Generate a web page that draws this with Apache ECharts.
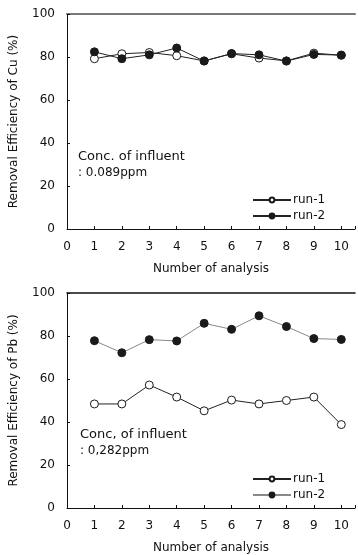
<!DOCTYPE html>
<html>
<head>
<meta charset="utf-8">
<script src="https://cdn.jsdelivr.net/npm/echarts@6/dist/echarts.min.js"></script>
<style>html,body{margin:0;padding:0;background:#fff}#c{width:358px;height:555px}</style>
</head>
<body>
<div id="c"></div>
<script>
const analysisNo = [1,2,3,4,5,6,7,8,9,10];
const xTicks = [0,1,2,3,4,5,6,7,8,9,10];
const yTicks = [0,20,40,60,80,100];
const cuRun1 = [79.2, 81.5, 82.1, 80.6, 78.2, 81.5, 79.5, 78.2, 81.8, 80.8];
const cuRun2 = [82.4, 79.2, 81.0, 84.2, 78.1, 81.6, 81.0, 78.1, 81.2, 80.9];
const pbRun1 = [48.4, 48.4, 57.2, 51.6, 45.2, 50.2, 48.4, 50.0, 51.6, 38.8];
const pbRun2 = [77.8, 72.2, 78.3, 77.7, 85.9, 83.1, 89.4, 84.4, 78.8, 78.4];

const FONT = 'DejaVu Sans';
const chart = echarts.init(document.getElementById('c'), null, {renderer:'canvas'});
const pair = (ys) => ys.map((v,i)=>[analysisNo[i], v]);

function xAxisFor(gi) {
  return {
    type:'value', gridIndex:gi, min:0, max:10.5, interval:1,
    name:'Number of analysis', nameLocation:'middle', nameGap:34,
    nameTextStyle:{fontFamily:FONT, fontSize:12, color:'#111'},
    axisLine:{lineStyle:{color:'#111', width:1}},
    axisTick:{inside:true, length:3, lineStyle:{color:'#111'}},
    axisLabel:{margin:12, fontFamily:FONT, fontSize:12, color:'#111',
      formatter:(v)=> xTicks.includes(v) ? String(v) : ''},
    splitLine:{show:false}
  };
}
function topAxisFor(gi, color, width) {
  return {
    type:'value', gridIndex:gi, position:'top', min:0, max:10.5,
    axisLine:{show:true, lineStyle:{color:color, width:width}},
    axisTick:{show:false}, axisLabel:{show:false}, splitLine:{show:false}
  };
}
function yAxisFor(gi, name) {
  return {
    type:'value', gridIndex:gi, min:0, max:100, interval:20,
    name:name, nameLocation:'middle', nameGap:47,
    nameTextStyle:{fontFamily:FONT, fontSize:12, color:'#111'},
    axisLine:{show:true, lineStyle:{color:'#111', width:1}},
    axisTick:{inside:true, length:3, lineStyle:{color:'#111'}},
    axisLabel:{margin:12, fontFamily:FONT, fontSize:12, color:'#111',
      formatter:(v)=> yTicks.includes(v) ? String(v) : ''},
    splitLine:{show:false}
  };
}
function series(name, data, gi, filled, lineColor) {
  return {
    name:name, type:'line', xAxisIndex:gi*2, yAxisIndex:gi, data:pair(data),
    symbol:'circle', symbolSize:8, showSymbol:true,
    lineStyle:{color:lineColor, width:1},
    itemStyle:{color: filled ? '#1a1a1a' : '#fff', borderColor:'#1a1a1a', borderWidth:1},
    animation:false
  };
}
const legendStyle = (top, names) => ({
  orient:'vertical', left:252, top:top, padding:0, itemWidth:38, itemHeight:6, itemGap:4,
  textStyle:{fontFamily:FONT, fontSize:12, color:'#111', padding:[0,0,0,-3]},
  formatter:(n)=> n.trim(),
  data:names
});

chart.setOption({
  animation:false,
  grid:[
    {left:65, top:14, width:292, height:215},
    {left:67, top:293, width:291, height:216}
  ],
  xAxis:[xAxisFor(0), topAxisFor(0,'#777',2), xAxisFor(1), topAxisFor(1,'#111',1.5)],
  yAxis:[yAxisFor(0,'Removal Efficiency of Cu (%)'), yAxisFor(1,'Removal Efficiency of Pb (%)')],
  legend:[legendStyle(194, ['run-1','run-2']), legendStyle(473, ['run-1 ','run-2 '])],
  series:[
    series('run-1', cuRun1, 0, false, '#222'),
    series('run-2', cuRun2, 0, true, '#222'),
    series('run-1 ', pbRun1, 1, false, '#222'),
    series('run-2 ', pbRun2, 1, true, '#888')
  ],
  graphic:[
    {type:'text', left:78, top:150, style:{text:'Conc. of influent', font:'13px '+FONT, fill:'#111'}},
    {type:'text', left:78, top:167, style:{text:': 0.089ppm', font:'12px '+FONT, fill:'#111'}},
    {type:'text', left:80, top:428, style:{text:'Conc, of influent', font:'13px '+FONT, fill:'#111'}},
    {type:'text', left:80, top:445, style:{text:': 0,282ppm', font:'12px '+FONT, fill:'#111'}}
  ]
});
</script>
</body>
</html>
